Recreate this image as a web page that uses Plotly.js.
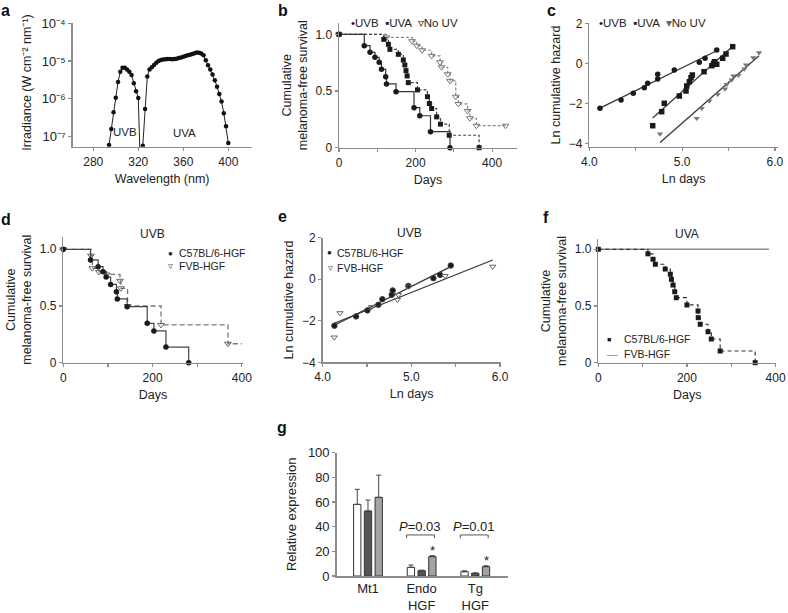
<!DOCTYPE html>
<html><head><meta charset="utf-8">
<script src="https://cdn.plot.ly/plotly-3.0.1.min.js"></script>
<style>html,body{margin:0;padding:0;background:#fff;}#chart{width:788px;height:613px;}</style>
</head><body><div id="chart"></div>
<script>
// ===== DATA =====
// a: spectrum
const specWlUVB = [294,296,298,300,302,304,306,308,310,312,314,316,318,320,322];
const specIrrUVB = [6e-8,1.6e-7,4.4e-7,1.07e-6,2.8e-6,5.2e-6,6.7e-6,6.7e-6,6.0e-6,5.2e-6,4.3e-6,2.6e-6,1.6e-6,1.05e-6,1e-8];
const specWlUVA = [324,326,328,330,332,334,336,338,340,342,344,346,348,350,352,354,356,358,360,362,364,366,368,370,372,374,376,378,380,382,384,386,388,390,392,394,396,398,400];
const specIrrUVA = [5.8e-8,5.4e-7,3.9e-6,6.0e-6,6.9e-6,7.9e-6,9.0e-6,1.0e-5,1.07e-5,1.1e-5,1.12e-5,1.13e-5,1.13e-5,1.12e-5,1.13e-5,1.16e-5,1.2e-5,1.25e-5,1.3e-5,1.36e-5,1.42e-5,1.48e-5,1.55e-5,1.62e-5,1.68e-5,1.66e-5,1.58e-5,1.42e-5,1.05e-5,7.8e-6,6.0e-6,4.4e-6,3.1e-6,2.1e-6,1.35e-6,8.5e-7,4.2e-7,1.9e-7,6.8e-8];
const specTickVals = [1e-7,1e-6,1e-5,1e-4];
const specTickText = ['10⁻⁷','10⁻⁶','10⁻⁵','10⁻⁴'];
// b: Kaplan-Meier
const bUvbDays = [0,66,81,94,105,111,122,124,149,196,211,239,290];
const bUvbSurv = [1,0.9,0.842,0.798,0.754,0.692,0.627,0.563,0.494,0.353,0.282,0.141,0];
const bUvaDays = [0,117,129,133,155,168,172,175,178,181,205,231,236,242,255,265,288,366];
const bUvaSurv = [1,0.956,0.912,0.868,0.824,0.774,0.730,0.68,0.633,0.574,0.51,0.45,0.39,0.346,0.272,0.208,0.11,0];
const bNoDays = [0,124,191,203,217,242,264,268,284,290,305,312,336,342,359,435];
const bNoSurv = [1,0.973,0.94,0.9,0.86,0.81,0.754,0.71,0.648,0.59,0.45,0.386,0.324,0.26,0.194,0.194];
// c: ln cumulative hazard
const cUvbX = [4.115,4.342,4.474,4.593,4.629,4.737,4.737,4.916,5.185,5.247,5.373];
const cUvbY = [-2.25,-1.835,-1.5,-1.22,-1.0,-0.785,-0.55,-0.335,0.05,0.25,0.665];
const cUvaX = [4.683,4.78,4.808,4.97,5.042,5.05,5.078,5.096,5.11,5.236,5.32,5.34,5.35,5.373,5.437,5.473,5.545];
const cUvaY = [-3.12,-2.42,-2.0,-1.635,-1.385,-1.135,-0.92,-0.72,-0.585,-0.42,-0.12,0.0,0.08,-0.05,0.25,0.465,0.83];
const cNoX = [4.762,5.157,5.211,5.293,5.383,5.462,5.48,5.534,5.552,5.606,5.67,5.689,5.767,5.829];
const cNoY = [-3.535,-2.75,-2.25,-1.885,-1.55,-1.285,-1.05,-0.835,-0.635,-0.6,-0.285,-0.085,0.28,0.53];
// d: UVB by strain
const dC57Days = [0,61,78,89,96,106,119,121,143,188,203,230,281];
const dC57Surv = [1,0.906,0.847,0.803,0.755,0.69,0.626,0.562,0.494,0.347,0.28,0.138,0];
const dFvbDays = [0,62,65,80,97,127,129,144,219,369];
const dFvbSurv = [1,0.944,0.833,0.80,0.778,0.722,0.656,0.5,0.333,0.167];
const dFvbLastDay = 400;
// e: UVB ln hazard by strain
const eC57X = [4.132,4.376,4.504,4.628,4.673,4.778,4.789,4.966,5.248,5.323,5.444];
const eC57Y = [-2.24,-1.79,-1.5,-1.23,-0.96,-0.75,-0.54,-0.32,0.05,0.21,0.66];
const eFvbX = [4.13,4.195,4.55,4.842,4.853,4.966,5.38,5.917];
const eFvbY = [-2.8,-1.63,-1.34,-0.99,-0.75,-0.35,0.16,0.61];
// f: UVA by strain
const fC57Days = [0,112,123.5,128.7,151,162.5,165,168.6,172.4,176,200,225,225.5,230,247.6,255,275,354];
const fC57Surv = [1,0.96,0.912,0.868,0.826,0.78,0.735,0.685,0.626,0.573,0.509,0.456,0.397,0.339,0.273,0.209,0.103,0];
const fFvbDays = [0,385];
const fFvbSurv = [1,1];
// g: relative expression
const gCats = ['Mt1','Endo HGF','Tg HGF'];
const gTickLines = [['Mt1'],['Endo','HGF'],['Tg','HGF']];
const gVal1 = [58.1,7.0,3.5];  const gErr1 = [12.2,1.9,0.7];
const gVal2 = [52.7,4.3,2.2];  const gErr2 = [8.9,0.4,0.3];
const gVal3 = [63.8,15.7,7.6]; const gErr3 = [18.0,0.8,0.7];
const gPValues = ['0.03','0.01'];
const survTickVals = [0,0.5,1];
const survTickText = ['0','0.5','1.0'];

// ===== HELPERS =====
const W = 788, H = 613;
const px = v => v / W, py = v => 1 - v / H;
const FONT = '"Liberation Sans", Arial, Helvetica, sans-serif';
const AXC = '#8c8c8c';
const TXT = '#222';
const sized = (t, s) => '<span style="font-size:' + s + 'px">' + t + '</span>';
const lines = (arr, s) => arr.map(t => sized(t, s)).join('<br>');

function fit(xs, ys) {
  const n = xs.length;
  const mx = xs.reduce((a,b)=>a+b,0)/n, my = ys.reduce((a,b)=>a+b,0)/n;
  let sxy = 0, sxx = 0;
  xs.forEach((x,i)=>{ sxy += (x-mx)*(ys[i]-my); sxx += (x-mx)*(x-mx); });
  const m = sxy/sxx, b = my - m*mx;
  const x0 = Math.min(...xs), x1 = Math.max(...xs);
  return {x:[x0,x1], y:[b+m*x0, b+m*x1]};
}
const baseAx = () => ({showline:true, linecolor:AXC, linewidth:1.5, ticks:'outside', ticklen:3, tickwidth:1.2, tickcolor:AXC,
  showgrid:false, zeroline:false, tickfont:{size:12,color:TXT}, fixedrange:true});
function xax(l, r, range, anchor, extra) {
  return Object.assign(baseAx(), {domain:[px(l),px(r)], range:range, anchor:anchor}, extra);
}
function yax(bottom, top, range, anchor, extra) {
  return Object.assign(baseAx(), {domain:[py(bottom),py(top)], range:range, anchor:anchor}, extra);
}
const minorT = d => ({dtick:d, ticks:'outside', ticklen:3, tickwidth:1.2, tickcolor:AXC, showgrid:false});
const ttl = (t, s) => ({text:t, font:{size:12.5,color:TXT}, standoff:s});

// ===== TRACES =====
const traces = [];
// a
traces.push({x:specWlUVB, y:specIrrUVB, xaxis:'x', yaxis:'y', mode:'lines+markers', line:{color:'#222',width:1}, marker:{color:'#111',size:4.5}});
traces.push({x:specWlUVA, y:specIrrUVA, xaxis:'x', yaxis:'y', mode:'lines+markers', line:{color:'#222',width:1}, marker:{color:'#111',size:4.5}});
// b
function km(days, surv, xa, ya, lineStyle, markerStyle) {
  return {x:days, y:surv, xaxis:xa, yaxis:ya, mode:'lines+markers', line:Object.assign({shape:'hv'}, lineStyle), marker:markerStyle, cliponaxis:false};
}
traces.push(km(bNoDays, bNoSurv, 'x2','y2', {color:'#888',width:1.2,dash:'3px,2px'}, {symbol:'triangle-down-open',size:6,color:'#777',line:{width:1}}));
traces.push(km(bUvaDays, bUvaSurv, 'x2','y2', {color:'#444',width:1.2,dash:'3px,2px'}, {symbol:'square',size:5,color:'#1a1a1a'}));
traces.push(km(bUvbDays, bUvbSurv, 'x2','y2', {color:'#333',width:1.2}, {symbol:'circle',size:5.5,color:'#1a1a1a'}));
// c
[[cUvbX,cUvbY,'circle','#1a1a1a'],[cUvaX,cUvaY,'square','#1a1a1a'],[cNoX,cNoY,'triangle-down','#777']].forEach(s=>{
  const f = fit(s[0], s[1]);
  traces.push({x:f.x, y:f.y, xaxis:'x3', yaxis:'y3', mode:'lines', line:{color:'#333',width:1.2}});
  traces.push({x:s[0], y:s[1], xaxis:'x3', yaxis:'y3', mode:'markers', marker:{symbol:s[2],size:5.5,color:s[3]}, cliponaxis:false});
});
// d
traces.push({x:dFvbDays.concat([dFvbLastDay]), y:dFvbSurv.concat([dFvbSurv[dFvbSurv.length-1]]), xaxis:'x4', yaxis:'y4', mode:'lines', line:{shape:'hv',color:'#777',width:1.3,dash:'5px,3px'}});
traces.push({x:dFvbDays, y:dFvbSurv, xaxis:'x4', yaxis:'y4', mode:'markers', marker:{symbol:'triangle-down-open',size:6,color:'#666',line:{width:1}}, cliponaxis:false});
traces.push(km(dC57Days, dC57Surv, 'x4','y4', {color:'#444',width:1.2}, {symbol:'circle',size:5.5,color:'#1a1a1a'}));
// e
[[eC57X,eC57Y,'circle','#1a1a1a'],[eFvbX,eFvbY,'triangle-down-open','#666']].forEach(s=>{
  const f = fit(s[0], s[1]);
  traces.push({x:f.x, y:f.y, xaxis:'x5', yaxis:'y5', mode:'lines', line:{color:'#333',width:1.2}});
  traces.push({x:s[0], y:s[1], xaxis:'x5', yaxis:'y5', mode:'markers', marker:{symbol:s[2],size:5.5,color:s[3],line:{width:1}}, cliponaxis:false});
});
// f
traces.push({x:fFvbDays, y:fFvbSurv, xaxis:'x6', yaxis:'y6', mode:'lines', line:{color:'#8a8a8a',width:1.6}});
traces.push(km(fC57Days, fC57Surv, 'x6','y6', {color:'#333',width:1.2,dash:'4px,3px'}, {symbol:'square',size:5,color:'#1a1a1a'}));
// g
const zeros = gCats.map(()=>0);
[[gVal1,gErr1,'#ffffff'],[gVal2,gErr2,'#555555'],[gVal3,gErr3,'#a3a3a3']].forEach(s=>{
  traces.push({type:'bar', x:gCats, y:s[0], xaxis:'x7', yaxis:'y7', marker:{color:s[2], line:{color:'#333',width:1}},
    error_y:{type:'data', symmetric:false, array:s[1], arrayminus:zeros, color:'#444', thickness:1, width:2.5}});
});

// ===== ANNOTATIONS =====
const ann = [];
function note(text, x, y, opt) {
  ann.push(Object.assign({xref:'paper', yref:'paper', x:px(x), y:py(y), text:text, showarrow:false,
    xanchor:'center', yanchor:'middle', font:{size:12,color:TXT}}, opt || {}));
}
// panel letters
[['a',0,10.2],['b',277,10.5],['c',546,10.2],['d',0,219.4],['e',277,216.4],['f',542,217.4],['g',276,427.7]].forEach(l=>{
  note('<b>'+l[0]+'</b>', l[1], l[2], {xanchor:'left', borderpad:0, font:{size:16,color:'#111'}});
});
// a y-axis title
note('Irradiance (W cm⁻² nm⁻¹)', 26.7, 83, {textangle:-90, font:{size:12.5,color:TXT}});
// a labels
ann.push({xref:'x', yref:'y', x:308.2, y:-6.876, text:'UVB', showarrow:false, font:{size:11.5,color:TXT}});
ann.push({xref:'x', yref:'y', x:361.5, y:-6.9, text:'UVA', showarrow:false, font:{size:11.5,color:TXT}});
// b / c legends
note('•UVB  ▪UVA  ▿No UV', 349, 22.7, {xanchor:'left', font:{size:11.5,color:TXT}});
note('•UVB  ▪UVA  <span style="color:#666">▾</span>No UV', 597, 23.3, {xanchor:'left', font:{size:11.5,color:TXT}});
// panel titles
note('UVB', 152, 234, {font:{size:12,color:TXT}});
note('UVB', 410, 233, {font:{size:12,color:TXT}});
note('UVA', 687, 234, {font:{size:12,color:TXT}});
// d legend
note('●', 170, 253.3, {font:{size:8,color:'#1a1a1a'}});
note('C57BL/6-HGF', 177, 253.3, {xanchor:'left', font:{size:10.5,color:TXT}});
note('▿', 170, 265.7, {font:{size:10,color:'#666'}});
note('FVB-HGF', 177, 265.7, {xanchor:'left', font:{size:10.5,color:TXT}});
// e legend
note('●', 329.5, 252.7, {font:{size:8,color:'#1a1a1a'}});
note('C57BL/6-HGF', 335, 252.7, {xanchor:'left', font:{size:10.5,color:TXT}});
note('▿', 330, 267.7, {font:{size:10,color:'#666'}});
note('FVB-HGF', 335, 267.7, {xanchor:'left', font:{size:10.5,color:TXT}});
// f legend
note('■', 609, 339.3, {font:{size:7,color:'#1a1a1a'}});
note('C57BL/6-HGF', 622, 339.3, {xanchor:'left', font:{size:10.5,color:TXT}});
note('—', 612, 354, {font:{size:11,color:'#888'}});
note('FVB-HGF', 622, 354, {xanchor:'left', font:{size:10.5,color:TXT}});
// g significance
const shapes = [];
[1,2].forEach((ci,k)=>{
  ann.push({xref:'x7', yref:'y7', x:ci-0.03, y:40, text:'<i style="font-size:13px">P</i>=' + gPValues[k], showarrow:false, font:{size:13,color:TXT}});
  const x0 = ci-0.28, x1 = ci+0.24, yt = 33.3, yb = 30.6;
  shapes.push({type:'line', xref:'x7', yref:'y7', x0:x0, x1:x1, y0:yt, y1:yt, line:{color:'#555',width:1}});
  shapes.push({type:'line', xref:'x7', yref:'y7', x0:x0, x1:x0, y0:yt, y1:yb, line:{color:'#555',width:1}});
  shapes.push({type:'line', xref:'x7', yref:'y7', x0:x1, x1:x1, y0:yt, y1:yb, line:{color:'#555',width:1}});
  ann.push({xref:'x7', yref:'y7', x:ci+0.2, y:gVal3[ci]+gErr3[ci], yshift:5.5, yanchor:'middle', text:'*', showarrow:false, font:{size:13,color:TXT}});
});

// ===== LAYOUT =====
const survTitle = lines(['Cumulative','melanoma-free survival'], 12.5);
const dayX = {tick0:0, dtick:200, minor:minorT(100), title:ttl('Days',6)};
const lnX = {tick0:4, dtick:1, tickformat:'.1f', minor:minorT(0.5), title:ttl('Ln days',6)};
const lnY = {tick0:0, dtick:2, title:ttl('Ln cumulative hazard',5)};
const survY = {tickvals:survTickVals, ticktext:survTickText, title:ttl(survTitle,5)};
const layout = {
  width:W, height:H, margin:{l:0,r:0,t:0,b:0}, showlegend:false,
  paper_bgcolor:'#fff', plot_bgcolor:'#fff', font:{family:FONT, color:TXT, size:12},
  barmode:'group', bargap:0.4, bargroupgap:0.32,
  xaxis: xax(72.7, 251.7, [261.7,420.8], 'y', {tick0:280, dtick:40, title:ttl('Wavelength (nm)',6)}),
  yaxis: yax(146.7, 23.3, [-7.265,-4], 'x', {type:'log', tickvals:specTickVals, ticktext:specTickText, tickfont:{size:13,color:TXT}}),
  xaxis2: xax(339, 517, [0,465], 'y2', dayX),
  yaxis2: yax(147.7, 22.7, [0,1.103], 'x2', survY),
  xaxis3: xax(589.3, 778, [4,6.033], 'y3', lnX),
  yaxis3: yax(146.7, 23.3, [-4.17,2], 'x3', lnY),
  xaxis4: xax(63.3, 242.7, [0,402], 'y4', dayX),
  yaxis4: yax(362.7, 236.7, [0,1.111], 'x4', survY),
  xaxis5: xax(322.7, 500.7, [4,6.007], 'y5', lnX),
  yaxis5: yax(362.3, 237.7, [-4,2], 'x5', lnY),
  xaxis6: xax(598.3, 776, [0,401], 'y6', dayX),
  yaxis6: yax(362.7, 239.3, [0,1.088], 'x6', survY),
  xaxis7: xax(336.7, 508.3, [-0.583,2.615], 'y7', {type:'category', ticks:'', tickfont:{size:13,color:TXT},
    tickmode:'array', tickvals:gCats, ticktext:gTickLines.map(l => lines(l, 13))}),
  yaxis7: yax(576, 452.7, [0,100], 'x7', {tick0:0, dtick:20, tickfont:{size:13,color:TXT}, title:{text:'Relative expression', font:{size:13,color:TXT}, standoff:8}}),
  annotations: ann, shapes: shapes
};
Plotly.newPlot('chart', traces, layout, {displayModeBar:false, staticPlot:true});
</script></body></html>
